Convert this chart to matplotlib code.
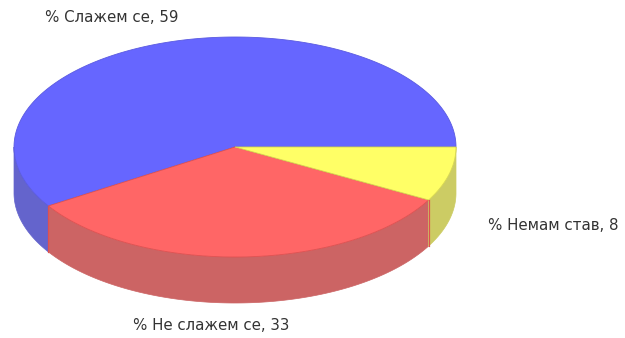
import numpy as np
import matplotlib
matplotlib.use("Agg")
import matplotlib.pyplot as plt
from matplotlib.patches import Polygon

labels = ["% Слажем се", "% Не слажем се", "% Немам став"]
values = [59, 33, 8]
top_colors = ["#6666ff", "#ff6666", "#ffff66"]
side_colors = ["#6464cc", "#cc6464", "#cccc64"]
edge_colors = ["#5a5ae0", "#e05050", "#d8d850"]

# pie geometry in pixels (y grows downwards)
cx, cy = 235, 147
rx, ry = 221, 110
depth = 46


def ellipse_pts(t0, t1, dy=0, n=200):
    t = np.radians(np.linspace(t0, t1, n))
    return np.column_stack([cx + rx * np.cos(t), cy - ry * np.sin(t) + dy])


fig = plt.figure(figsize=(6.25, 3.38), dpi=100)
ax = fig.add_axes([0, 0, 1, 1])
ax.set_xlim(0, 625)
ax.set_ylim(338, 0)
ax.axis("off")

total = sum(values)
bounds = np.concatenate([[0], np.cumsum(values)]) / total * 360

# side walls: only the front half (180..360 deg) is visible
for i in range(len(values)):
    a0, a1 = max(bounds[i], 180), min(bounds[i + 1], 360)
    if a1 <= a0:
        continue
    top = ellipse_pts(a0, a1)
    bottom = ellipse_pts(a1, a0, dy=depth)
    ax.add_patch(Polygon(np.vstack([top, bottom]), closed=True,
                         facecolor=side_colors[i], edgecolor=side_colors[i],
                         linewidth=0.5, zorder=1))
    # seam where two slices meet on the wall
    for a in (a0, a1):
        if 180 < a < 360:
            p = ellipse_pts(a, a, n=1)[0]
            ax.plot([p[0], p[0]], [p[1], p[1] + depth], color=edge_colors[1],
                    linewidth=0.8, zorder=2)

# top faces
for i in range(len(values)):
    arc = ellipse_pts(bounds[i], bounds[i + 1])
    pts = np.vstack([[cx, cy], arc])
    ax.add_patch(Polygon(pts, closed=True, facecolor=top_colors[i],
                         edgecolor=edge_colors[i], linewidth=0.6, zorder=3))

# labels
txt = dict(fontsize=10.8, color="#333333", family="DejaVu Sans", va="center")
ax.text(45, 17, f"{labels[0]}, {values[0]}", ha="left", **txt)
ax.text(488, 225, f"{labels[2]}, {values[2]}", ha="left", **txt)
ax.text(133, 326, f"{labels[1]}, {values[1]}", ha="left", **txt)

fig.savefig("out.png", dpi=100)
